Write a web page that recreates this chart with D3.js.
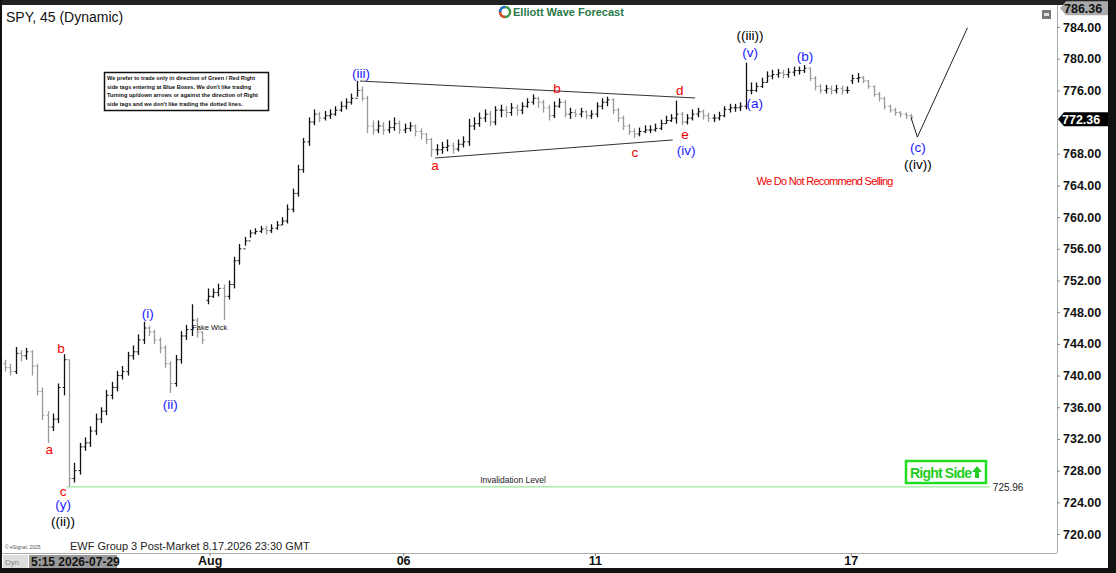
<!DOCTYPE html>
<html><head><meta charset="utf-8">
<script src="https://cdn.jsdelivr.net/npm/d3@7/dist/d3.min.js"></script>
<style>body{margin:0;background:#fff}svg{display:block;font-family:"Liberation Sans",Arial,sans-serif}</style>
</head><body><svg id="c" width="1116" height="573"></svg>
<script>
const closes=[741.0,740.5,742.8,742.5,743.0,741.2,738.0,735.0,733.5,734.5,738.5,742.0,727.0,728.0,731.0,731.5,733.0,734.5,735.5,737.5,738.5,740.0,740.5,742.5,743.0,744.5,746.0,745.5,744.5,743.5,741.5,739.0,742.0,745.0,745.8,747.0,745.5,744.5,750.0,750.5,751.0,750.0,751.5,754.5,756.0,757.0,758.0,758.2,758.5,758.3,758.6,759.0,759.5,761.0,763.0,766.0,769.5,772.0,773.0,772.5,772.8,773.0,773.5,774.0,774.5,775.0,776.0,775.0,771.5,771.0,771.5,771.0,771.3,771.8,771.0,771.2,771.5,770.8,770.5,769.8,768.5,768.5,768.8,769.0,768.6,769.2,769.5,771.5,771.8,772.5,773.0,772.0,773.5,773.5,773.2,773.8,773.5,774.0,774.5,775.0,774.5,773.8,772.8,774.0,774.5,773.0,773.2,773.0,773.3,772.8,773.0,774.0,774.5,774.8,773.5,772.5,771.5,770.8,770.5,770.8,771.0,771.0,771.2,771.8,772.2,772.5,773.0,772.0,772.5,773.0,773.3,772.8,772.5,772.5,772.8,773.6,773.8,773.8,774.0,776.0,776.0,776.5,777.0,777.8,778.0,778.2,778.0,778.3,778.5,778.5,778.8,777.5,776.5,776.0,776.2,776.0,776.2,776.0,776.0,777.5,777.6,777.2,776.5,775.5,775.0,774.0,773.5,773.2,773.0,772.8,772.6];
const opens=[741.5,741.0,740.5,742.8,742.5,743.0,741.2,738.0,735.0,733.5,734.5,738.5,742.0,727.0,728.0,731.0,731.5,733.0,734.5,735.5,737.5,738.5,740.0,740.5,742.5,743.0,744.5,746.0,745.5,744.5,743.5,741.5,739.0,742.0,745.0,745.8,747.0,745.5,749.5,750.0,750.5,751.0,750.0,751.5,754.5,756.0,757.0,758.0,758.2,758.5,758.3,758.6,759.0,759.5,761.0,763.0,766.0,769.5,772.0,773.0,772.5,772.8,773.0,773.5,774.0,774.5,775.0,776.0,775.0,771.5,771.0,771.5,771.0,771.3,771.8,771.0,771.2,771.5,770.8,770.5,769.8,768.5,768.5,768.8,769.0,768.6,769.2,769.5,771.5,771.8,772.5,773.0,772.0,773.5,773.5,773.2,773.8,773.5,774.0,774.5,775.0,774.5,773.8,772.8,774.0,774.5,773.0,773.2,773.0,773.3,772.8,773.0,774.0,774.5,774.8,773.5,772.5,771.5,770.8,770.5,770.8,771.0,771.0,771.2,771.8,772.2,772.5,773.0,772.0,772.5,773.0,773.3,772.8,772.5,772.5,772.8,773.6,773.8,773.8,774.0,776.0,776.0,776.5,777.0,777.8,778.0,778.2,778.0,778.3,778.5,778.5,778.8,777.5,776.5,776.0,776.2,776.0,776.2,776.0,777.2,777.5,777.6,777.2,776.5,775.5,775.0,774.0,773.5,773.2,773.0,772.8];
const highs=[742.0,741.5,743.6,743.2,743.5,743.2,741.5,738.5,735.5,735.2,739.0,742.7,742.0,729.0,731.5,732.2,733.6,735.2,736.0,738.2,739.2,740.6,741.2,743.0,743.8,745.2,746.8,746.3,745.8,744.8,743.8,741.8,742.6,745.6,746.4,749.0,747.3,745.6,751.0,751.0,751.6,751.5,752.0,755.0,756.6,757.5,758.4,758.6,758.9,758.9,759.1,759.5,760.0,761.6,763.6,766.6,770.0,772.6,773.6,773.3,773.4,773.6,774.0,774.6,775.0,775.6,777.2,776.5,775.3,772.2,772.2,772.0,772.2,772.6,772.2,771.8,772.0,771.7,771.2,770.6,770.0,769.2,769.5,769.8,769.4,769.8,770.2,772.4,772.6,773.2,773.6,773.4,774.0,774.2,774.0,774.4,774.2,774.5,775.0,775.5,775.2,774.8,774.2,774.6,775.0,774.8,773.8,773.6,773.8,773.5,773.5,774.5,775.0,775.2,775.0,773.8,772.8,771.8,771.2,771.3,771.6,771.6,771.8,772.3,772.8,773.0,774.7,773.3,773.0,773.6,773.8,773.6,773.2,773.0,773.3,774.0,774.3,774.3,774.5,779.5,777.0,777.0,777.6,778.4,778.6,778.7,778.6,778.8,779.0,779.0,779.2,778.9,777.8,776.8,776.7,776.6,776.7,776.6,776.5,778.0,778.2,777.8,777.3,776.6,775.8,775.2,774.2,773.8,773.4,773.2,773.0];
const lows=[740.5,740.0,740.2,741.8,742.0,740.0,737.5,734.4,731.5,733.0,734.0,737.5,725.96,726.5,727.5,730.5,731.0,732.5,734.0,735.0,737.0,738.0,739.5,740.0,742.0,742.6,744.0,745.0,744.0,742.8,741.0,737.8,738.6,741.5,744.5,745.0,744.8,744.0,749.0,749.8,750.0,747.0,749.6,751.0,754.0,756.4,757.4,757.8,758.0,757.8,758.0,758.4,759.0,759.2,760.6,762.6,765.6,769.0,771.6,772.0,772.2,772.4,772.8,773.3,773.6,774.2,775.2,774.6,770.6,770.4,770.6,770.4,770.6,770.9,770.5,770.6,770.8,770.2,769.8,769.2,767.6,767.8,768.0,768.3,768.0,768.3,768.8,769.0,771.0,771.4,772.0,771.5,771.6,772.6,772.6,772.8,772.8,773.0,773.8,774.2,773.8,773.2,772.2,772.5,773.8,772.6,772.4,772.6,772.6,772.4,772.4,772.6,773.6,774.0,773.0,772.0,771.0,770.4,770.0,770.2,770.6,770.6,770.8,771.0,771.8,772.0,771.8,771.6,771.7,772.2,772.6,772.3,772.0,772.0,772.2,772.6,773.2,773.3,773.4,773.6,775.5,775.8,776.3,777.0,777.4,777.6,777.5,777.6,777.8,778.0,778.2,777.2,776.0,775.6,775.6,775.5,775.6,775.5,775.6,776.8,777.0,776.9,776.2,775.2,774.6,773.6,773.2,772.8,772.6,772.4,772.2];
const yTicks=[720,724,728,732,736,740,744,748,752,756,760,764,768,776,780,784];
const xTickIdx=[38.4,74.7,110.7,158.7];
const xTickLabels=["Aug","06","11","17"];
const projIdx=[170,171.2,180.6];
const projPrice=[772.6,770.1,783.9];
const upperTL=[[66.6,777.18],[129.5,775.04]];
const lowerTL=[[80.7,767.46],[125.3,769.74]];
const invalidation=725.96;
const lastPrice=772.36, topPrice=786.36;
const labels=[
["((ii))",10.9,721.6,"#000"],["(y)",10.9,723.7,"#1a1aff"],["c",10.9,725.4,"#e00"],
["a",8.3,730.7,"#e00"],["b",10.5,743.5,"#e00"],["(i)",26.8,747.9,"#1a1aff"],["(ii)",31,736.4,"#1a1aff"],
["(iii)",66.8,778.2,"#1a1aff"],["a",80.7,766.6,"#e00"],["b",103.6,776.3,"#e00"],["c",118.2,768.2,"#e00"],
["d",126.6,776.05,"#e00"],["e",127.6,770.5,"#e00"],["(iv)",127.8,768.5,"#1a1aff"],
["((iii))",139.8,783.0,"#000"],["(v)",139.8,780.85,"#1a1aff"],["(a)",140.7,774.4,"#1a1aff"],
["(b)",150.1,780.3,"#1a1aff"],["(c)",171.3,768.85,"#1a1aff"],["((iv))",171.3,766.7,"#000"]];

const svg=d3.select("#c");
const x=d3.scaleLinear().domain([0,197.4]).range([5,1057]);
const y=d3.scaleLinear().domain([720,784]).range([534,27]);

svg.append("rect").attr("x",0).attr("y",0).attr("width",1116).attr("height",5).attr("fill","#222");
svg.append("rect").attr("x",1108).attr("y",0).attr("width",8).attr("height",573).attr("fill","#111");
svg.append("rect").attr("x",0).attr("y",568).attr("width",1116).attr("height",5).attr("fill","#111");
svg.append("rect").attr("x",0).attr("y",0).attr("width",2).attr("height",573).attr("fill","#111");
svg.append("line").attr("x1",2).attr("x2",1057).attr("y1",553.5).attr("y2",553.5).attr("stroke","#aaa");
svg.append("line").attr("x1",1057.5).attr("x2",1057.5).attr("y1",5).attr("y2",553).attr("stroke","#aaa");

const ya=svg.append("g").attr("transform","translate(1057,0)").call(d3.axisRight(y).tickValues(yTicks).tickFormat(d3.format(".2f")).tickSize(3));
ya.select(".domain").remove();
ya.selectAll("text").attr("font-size",12.5).attr("font-weight","bold").attr("fill","#111").attr("font-family","Liberation Sans, Arial");
ya.selectAll("line").attr("stroke","#888");
const xa=svg.append("g").attr("transform","translate(0,553)").call(d3.axisBottom(x).tickValues(xTickIdx).tickFormat((d,i)=>xTickLabels[i]).tickSize(3));
xa.select(".domain").remove();
xa.selectAll("text").attr("font-size",12.5).attr("font-weight","bold").attr("fill","#111").attr("dy","0.5em");
xa.selectAll("line").attr("stroke","#888");

const tp=y(topPrice);
svg.append("path").attr("d",`M1060,${tp} L1066,${tp-7} L1108,${tp-7} L1108,${tp+7} L1066,${tp+7}Z`).attr("fill","#aaa");
svg.append("text").attr("x",1064).attr("y",tp+4.5).text(topPrice.toFixed(2)).attr("font-size",12.5).attr("font-weight","bold").attr("fill","#111");
const lp=y(lastPrice);
svg.append("path").attr("d",`M1058,${lp} L1064,${lp-7} L1108,${lp-7} L1108,${lp+7} L1064,${lp+7}Z`).attr("fill","#000");
svg.append("text").attr("x",1062).attr("y",lp+4.5).text(lastPrice.toFixed(2)).attr("font-size",12.5).attr("font-weight","bold").attr("fill","#fff");
svg.append("rect").attr("x",1042).attr("y",10).attr("width",9).attr("height",9).attr("fill","#777");
svg.append("rect").attr("x",1044).attr("y",13).attr("width",5).attr("height",3).attr("fill","#ddd");

svg.append("line").attr("x1",x(11.5)).attr("x2",x(184.8)).attr("y1",y(invalidation)).attr("y2",y(invalidation)).attr("stroke","#9be89b").attr("stroke-width",1.2);
svg.append("text").attr("x",x(184.8)+3).attr("y",y(invalidation)+4).text(invalidation.toFixed(2)).attr("font-size",10).attr("fill","#222");
svg.append("text").attr("x",513).attr("y",y(invalidation)-4).attr("text-anchor","middle").text("Invalidation Level").attr("font-size",8.5).attr("fill","#222");

const bars=svg.append("g");
closes.forEach((c,i)=>{
  const o=opens[i],cx=Math.round(x(i))+0.5,col=(c>=o)?"#111":"#999";
  bars.append("line").attr("x1",cx).attr("x2",cx).attr("y1",y(highs[i])).attr("y2",y(lows[i])).attr("stroke",col).attr("stroke-width",1.3);
  bars.append("line").attr("x1",cx-2).attr("x2",cx).attr("y1",y(o)).attr("y2",y(o)).attr("stroke",col);
  bars.append("line").attr("x1",cx).attr("x2",cx+2).attr("y1",y(c)).attr("y2",y(c)).attr("stroke",col);
});

[upperTL,lowerTL].forEach(t=>svg.append("line").attr("x1",x(t[0][0])).attr("y1",y(t[0][1])).attr("x2",x(t[1][0])).attr("y2",y(t[1][1])).attr("stroke","#333").attr("stroke-width",1));
svg.append("path").attr("d",d3.line().x((d,i)=>x(projIdx[i])).y(d=>y(d))(projPrice)).attr("fill","none").attr("stroke","#222").attr("stroke-width",1);

labels.forEach(l=>svg.append("text").attr("x",x(l[1])).attr("y",y(l[2])).attr("dy","0.35em").attr("text-anchor","middle").attr("font-size",13.5).attr("fill",l[3]).text(l[0]));
svg.append("text").attr("x",x(38.4)).attr("y",y(746.1)).attr("dy","0.35em").attr("text-anchor","middle").attr("font-size",7.5).attr("fill","#111").text("Fake Wick");
svg.append("text").attr("x",x(153.8)).attr("y",y(764.6)).attr("dy","0.35em").attr("text-anchor","middle").attr("font-size",11).attr("fill","#e00").attr("letter-spacing","-0.7").text("We Do Not Recommend Selling");

svg.append("text").attr("x",6).attr("y",22).text("SPY, 45 (Dynamic)").attr("font-size",14).attr("fill","#111");
svg.append("rect").attr("x",104.5).attr("y",72.5).attr("width",164).attr("height",38).attr("fill","#fff").attr("stroke","#111").attr("stroke-width",1.5);
["We prefer to trade only in direction of Green / Red Right","side tags entering at Blue Boxes. We don't like trading","Turning up/down arrows or against the direction of Right","side tags and we don't like trading the dotted lines."].forEach((t,i)=>
  svg.append("text").attr("x",107).attr("y",80+i*8.5).text(t).attr("font-size",5.6).attr("font-weight","bold").attr("fill","#111"));

svg.append("circle").attr("cx",505).attr("cy",12).attr("r",5).attr("fill","none").attr("stroke","#3a9a4a").attr("stroke-width",2.5);
svg.append("path").attr("d","M500,12 A5,5 0 0 1 505,7").attr("fill","none").attr("stroke","#2a6fd0").attr("stroke-width",2.5);
svg.append("path").attr("d","M505,17 A5,5 0 0 1 500,12").attr("fill","none").attr("stroke","#e04a2a").attr("stroke-width",2.5);
svg.append("text").attr("x",513).attr("y",16).text("Elliott Wave Forecast").attr("font-size",11).attr("font-weight","bold").attr("fill","#2a7a4a");

svg.append("rect").attr("x",906).attr("y",461).attr("width",80).attr("height",22).attr("fill","#fff").attr("stroke","#22dd22").attr("stroke-width",2.5);
svg.append("text").attr("x",910).attr("y",477.5).text("Right Side").attr("font-size",14).attr("font-weight","bold").attr("fill","#22cc22").attr("letter-spacing","-0.8");
svg.append("path").attr("d","M977,466 L982,472 L979,472 L979,478 L975,478 L975,472 L972,472Z").attr("fill","#22cc22");

svg.append("text").attr("x",5).attr("y",549).text("© eSignal, 2025").attr("font-size",5).attr("fill","#555");
svg.append("text").attr("x",70).attr("y",550).text("EWF Group 3 Post-Market 8.17.2026 23:30 GMT").attr("font-size",11).attr("fill","#222");
svg.append("rect").attr("x",3).attr("y",555).attr("width",25).attr("height",13).attr("fill","#ddd");
svg.append("text").attr("x",5).attr("y",565).text("Dyn").attr("font-size",8).attr("fill","#888");
svg.append("rect").attr("x",29).attr("y",555).attr("width",88).attr("height",13).attr("fill","#999");
svg.append("text").attr("x",31).attr("y",566).text("5:15 2026-07-29").attr("font-size",12).attr("font-weight","bold").attr("fill","#111");
</script></body></html>
